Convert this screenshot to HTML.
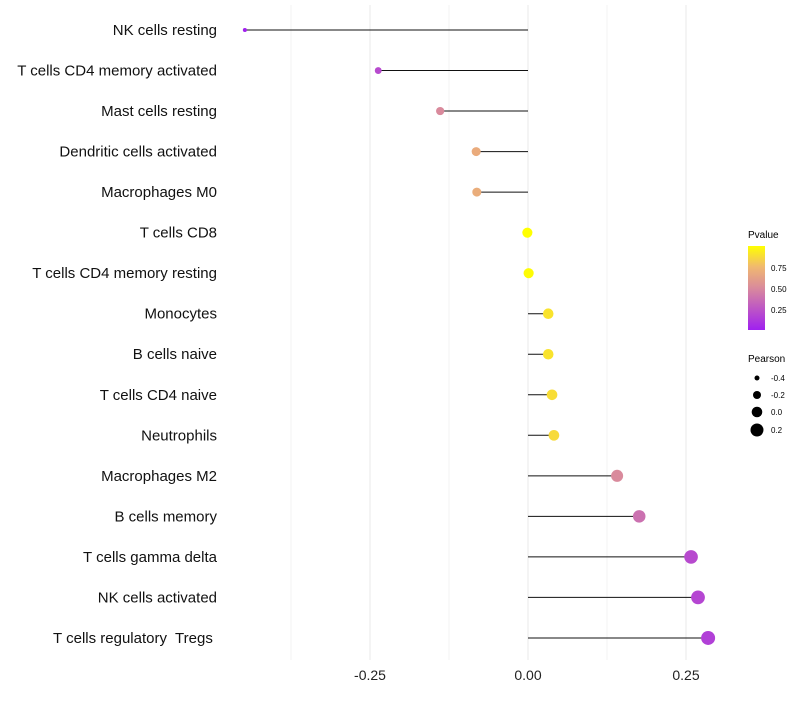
<!DOCTYPE html>
<html><head><meta charset="utf-8"><style>
body{margin:0;background:#fff;font-family:"Liberation Sans",sans-serif}
text{white-space:pre}
</style></head><body>
<svg id="chart" width="800" height="700" xmlns="http://www.w3.org/2000/svg">
<defs><linearGradient id="pg" x1="0" y1="1" x2="0" y2="0">
<stop offset="0" stop-color="#a020f0"/><stop offset="0.5" stop-color="#d98a9c"/><stop offset="0.75" stop-color="#f0b870"/><stop offset="1" stop-color="#ffff00"/></linearGradient></defs>
<g id="grid"></g><g id="marks"></g><g id="labels"></g>
<g>
<text x="748" y="238" font-size="10">Pvalue</text>
<rect x="748" y="246" width="17" height="84" fill="url(#pg)"/>
<text x="771" y="271" font-size="8">0.75</text>
<text x="771" y="292" font-size="8">0.50</text>
<text x="771" y="313" font-size="8">0.25</text>
</g>
<g>
<text x="748" y="362" font-size="10">Pearson</text>
<circle cx="757" cy="378" r="2.5"/><text x="771" y="381" font-size="8">-0.4</text>
<circle cx="757" cy="395" r="4"/><text x="771" y="398" font-size="8">-0.2</text>
<circle cx="757" cy="412" r="5.3"/><text x="771" y="415" font-size="8">0.0</text>
<circle cx="757" cy="430" r="6.5"/><text x="771" y="433" font-size="8">0.2</text>
</g>
</svg>
<script>
const categories=["NK cells resting","T cells CD4 memory activated","Mast cells resting","Dendritic cells activated","Macrophages M0","T cells CD8","T cells CD4 memory resting","Monocytes","B cells naive","T cells CD4 naive","Neutrophils","Macrophages M2","B cells memory","T cells gamma delta","NK cells activated","T cells regulatory  Tregs "];
const pearson=[-0.448,-0.237,-0.139,-0.082,-0.081,-0.001,0.001,0.032,0.032,0.038,0.041,0.141,0.176,0.258,0.269,0.285];
const pvalues=[0.01,0.2,0.5,0.68,0.69,1.0,0.99,0.9,0.9,0.88,0.87,0.5,0.38,0.2,0.18,0.15];
const xTicks=[-0.25,0,0.25];
const xTickLabels=["-0.25","0.00","0.25"];
const gridVals=[-0.375,-0.25,-0.125,0,0.125,0.25];
const NS="http://www.w3.org/2000/svg";
const xs=v=>528+v*632;
const ys=i=>30+i*40.53;
const rs=v=>2+(v+0.45)*6.8;
function lerp(a,b,t){return a+(b-a)*t}
const stops=[[0,[160,32,240]],[0.5,[217,138,156]],[0.75,[240,184,112]],[1,[255,255,0]]];
function col(p){for(let k=1;k<stops.length;k++){if(p<=stops[k][0]){const a=stops[k-1],b=stops[k];const t=(p-a[0])/(b[0]-a[0]);return "rgb("+a[1].map((c,j)=>Math.round(lerp(c,b[1][j],t))).join(",")+")";}}return "rgb(255,255,0)";}
function mk(t,attrs,parent){const e=document.createElementNS(NS,t);for(const k in attrs)e.setAttribute(k,attrs[k]);document.getElementById(parent).appendChild(e);return e;}
gridVals.forEach(v=>{const l=mk("line",{x1:xs(v),x2:xs(v),y1:5,y2:660,stroke:"#ebebeb","stroke-width":v%0.25===0?1.1:0.6},"grid");

});
xTicks.forEach((v,i)=>{const t=mk("text",{x:xs(v),y:680,"font-size":14,"text-anchor":"middle",fill:"#222"},"labels");t.textContent=xTickLabels[i];

});
categories.forEach((c,i)=>{const y=ys(i);
const t=mk("text",{x:217,y:y+5,"font-size":15,"text-anchor":"end",fill:"#111"},"labels");t.textContent=c;


const l=mk("line",{x1:xs(0),x2:xs(pearson[i]),y1:y,y2:y,stroke:"#111","stroke-width":1},"marks");


const d=mk("circle",{cx:xs(pearson[i]),cy:y,r:rs(pearson[i]),fill:col(pvalues[i])},"marks");

});
</script>
</body></html>
